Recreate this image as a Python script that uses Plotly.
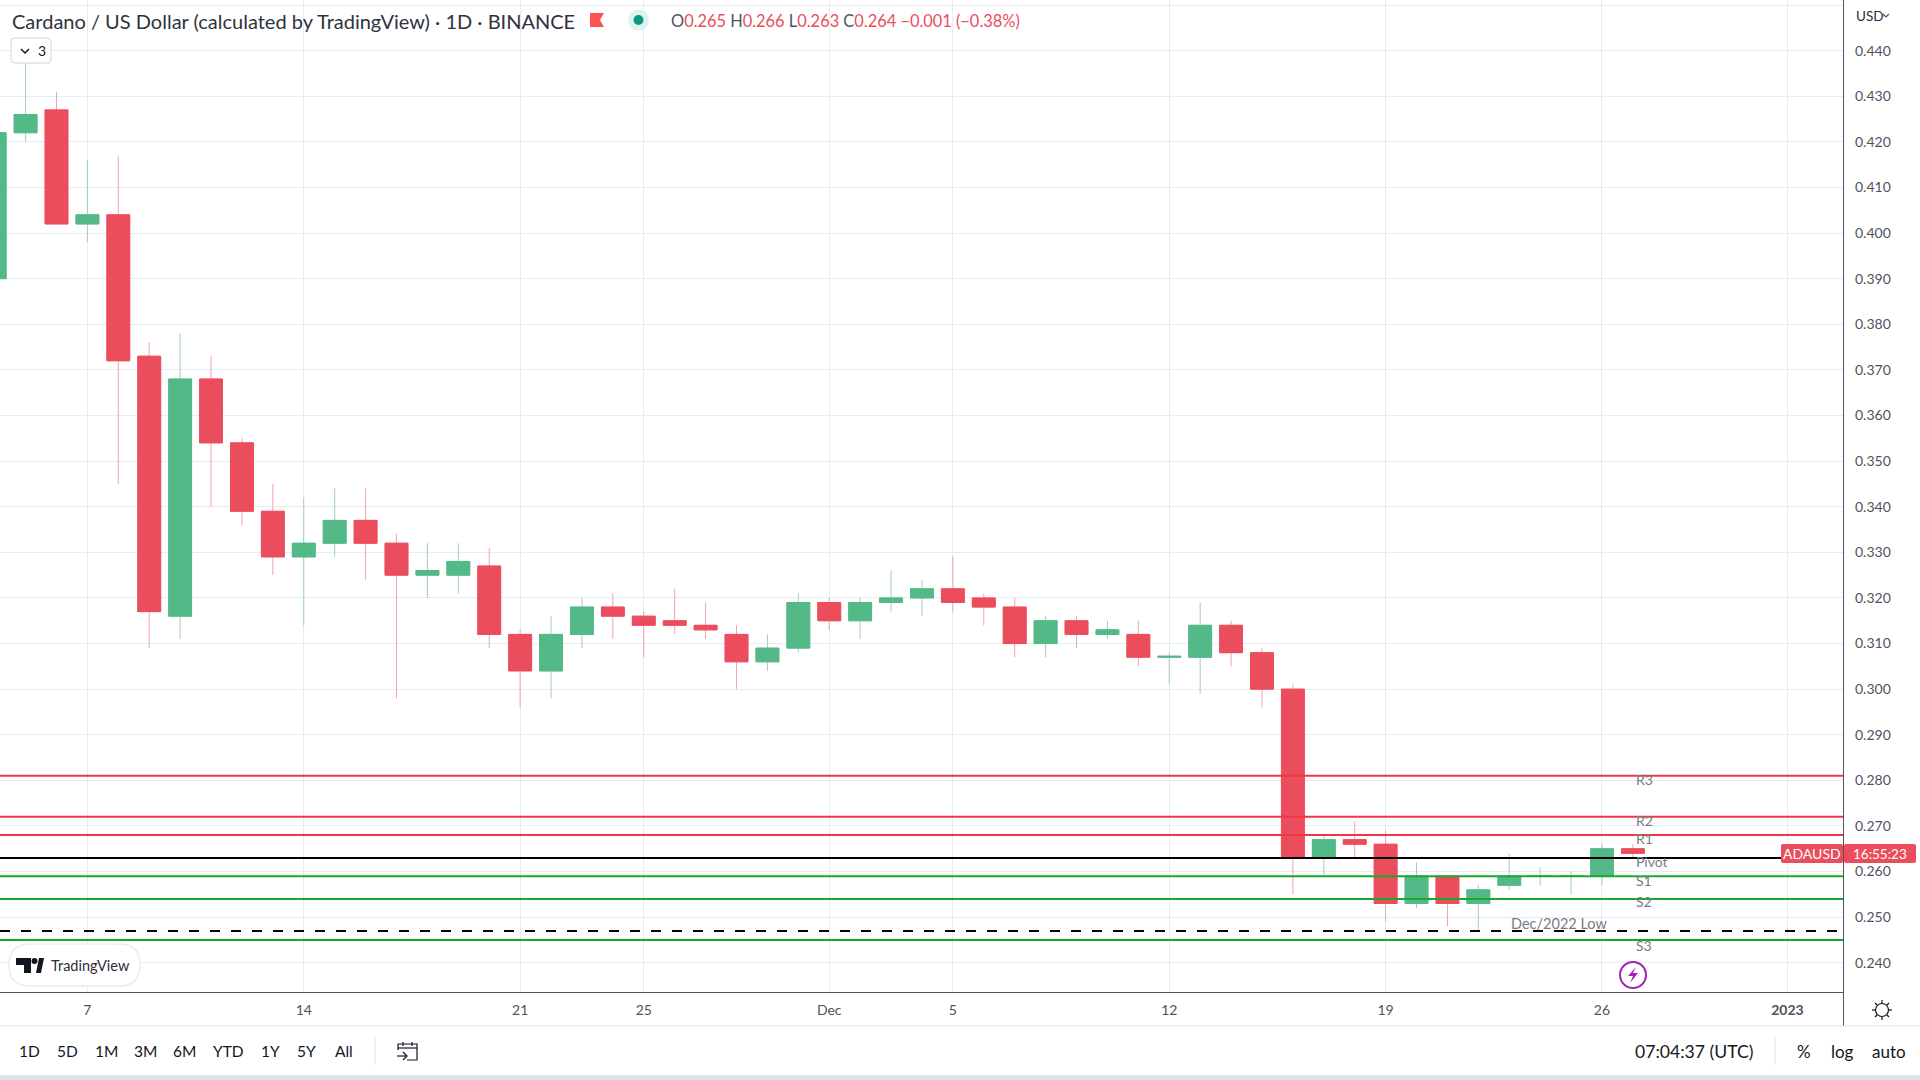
import pandas as pd
import plotly.graph_objects as go

# Daily ADA/USD candles, first candle 4 Nov 2022
opens = [
    0.390, 0.422, 0.427, 0.402, 0.404, 0.373, 0.316, 0.368, 0.354, 0.339,
    0.329, 0.332, 0.337, 0.332, 0.325, 0.325, 0.327, 0.312, 0.304, 0.312,
    0.318, 0.316, 0.315, 0.314, 0.312, 0.306, 0.309, 0.319, 0.315, 0.319,
    0.320, 0.322, 0.320, 0.318, 0.310, 0.315, 0.312, 0.312, 0.307, 0.307,
    0.314, 0.308, 0.300, 0.263, 0.267, 0.266, 0.253, 0.259, 0.253, 0.257,
    0.259, 0.259, 0.259, 0.265,
]
highs = [
    0.425, 0.438, 0.431, 0.416, 0.417, 0.376, 0.378, 0.373, 0.355, 0.345,
    0.342, 0.344, 0.344, 0.334, 0.332, 0.332, 0.331, 0.313, 0.316, 0.320,
    0.321, 0.317, 0.322, 0.319, 0.314, 0.312, 0.321, 0.320, 0.320, 0.326,
    0.324, 0.329, 0.321, 0.320, 0.316, 0.316, 0.315, 0.315, 0.308, 0.319,
    0.315, 0.309, 0.301, 0.268, 0.271, 0.269, 0.262, 0.259, 0.257, 0.264,
    0.261, 0.260, 0.266, 0.266,
]
lows = [
    0.385, 0.420, 0.402, 0.398, 0.345, 0.309, 0.311, 0.340, 0.336, 0.325,
    0.314, 0.329, 0.324, 0.298, 0.320, 0.321, 0.309, 0.296, 0.298, 0.309,
    0.311, 0.307, 0.312, 0.311, 0.300, 0.304, 0.308, 0.313, 0.311, 0.317,
    0.316, 0.317, 0.314, 0.307, 0.307, 0.309, 0.311, 0.305, 0.301, 0.299,
    0.305, 0.296, 0.255, 0.259, 0.263, 0.249, 0.252, 0.248, 0.247, 0.256,
    0.257, 0.255, 0.257, 0.263,
]
closes = [
    0.422, 0.426, 0.402, 0.404, 0.372, 0.317, 0.368, 0.354, 0.339, 0.329,
    0.332, 0.337, 0.332, 0.325, 0.326, 0.328, 0.312, 0.304, 0.312, 0.318,
    0.316, 0.314, 0.314, 0.313, 0.306, 0.309, 0.319, 0.315, 0.319, 0.320,
    0.322, 0.319, 0.318, 0.310, 0.315, 0.312, 0.313, 0.307, 0.3072, 0.314,
    0.308, 0.300, 0.263, 0.267, 0.266, 0.253, 0.259, 0.253, 0.256, 0.259,
    0.259, 0.259, 0.265, 0.264,
]
dates = pd.date_range("2022-11-04", periods=len(opens))

# Pivot levels and the December low
red_levels = [("R3", 0.281), ("R2", 0.272), ("R1", 0.268)]
pivot_level = ("Pivot", 0.263)
green_levels = [("S1", 0.259), ("S2", 0.254), ("S3", 0.245)]
low_level = 0.247
low_label = "Dec/2022 Low"
level_label_shifts = [-4, -4, -3, -4, -4, -3, -5]

tick_dates = ["2022-11-07", "2022-11-14", "2022-11-21", "2022-11-25", "2022-12-01",
              "2022-12-05", "2022-12-12", "2022-12-19", "2022-12-26", "2023-01-01"]
tick_labels = ["7", "14", "21", "25", "Dec", "5", "12", "19", "26", "<b>2023</b>"]

range_buttons = [("1D", 30), ("5D", 67), ("1M", 106), ("3M", 145), ("6M", 184),
                 ("YTD", 228), ("1Y", 270), ("5Y", 306), ("All", 344)]

FONT = "Lato"
UP, DOWN = "#53b987", "#eb4d5c"
UP_WICK, DOWN_WICK = "#a3cbca", "#f5a0ae"
GRID = "#e4edf3"
RED_LINE, GREEN_LINE = "#f23645", "#1aa82c"
TEXT = "#131722"
MUTED = "#787b86"
AXIS_TEXT = "#50535e"
BORDER = "#e0e3eb"

PLOT_W, PLOT_H = 1844, 992


def px(x):
    return x / PLOT_W


def py(y):
    return 1 - y / PLOT_H


def paper_path(points, close=False):
    """SVG path from (x, y) page pixels, in paper coordinates."""
    cmds = [f"{'M' if i == 0 else 'L'} {px(x):.5f} {py(y):.5f}" for i, (x, y) in enumerate(points)]
    return " ".join(cmds) + (" Z" if close else "")


def round_rect(x0, y0, x1, y1, r):
    return (
        f"M {px(x0 + r):.5f} {py(y0):.5f} L {px(x1 - r):.5f} {py(y0):.5f} "
        f"Q {px(x1):.5f} {py(y0):.5f} {px(x1):.5f} {py(y0 + r):.5f} "
        f"L {px(x1):.5f} {py(y1 - r):.5f} Q {px(x1):.5f} {py(y1):.5f} {px(x1 - r):.5f} {py(y1):.5f} "
        f"L {px(x0 + r):.5f} {py(y1):.5f} Q {px(x0):.5f} {py(y1):.5f} {px(x0):.5f} {py(y1 - r):.5f} "
        f"L {px(x0):.5f} {py(y0 + r):.5f} Q {px(x0):.5f} {py(y0):.5f} {px(x0 + r):.5f} {py(y0):.5f} Z"
    )


def add_path(fig, path, fill=None, line=None, width=1):
    fig.add_shape(type="path", xref="paper", yref="paper", path=path,
                  fillcolor=fill or "rgba(0,0,0,0)",
                  line=dict(color=line or "rgba(0,0,0,0)", width=width if line else 0))


def add_rect(fig, x0, y0, x1, y1, fill):
    fig.add_shape(type="rect", xref="paper", yref="paper", x0=px(x0), x1=px(x1),
                  y0=py(y1), y1=py(y0), fillcolor=fill, line=dict(width=0))


def add_circle(fig, cx, cy, r, fill=None, line=None, width=1):
    fig.add_shape(type="circle", xref="paper", yref="paper",
                  x0=px(cx - r), x1=px(cx + r), y0=py(cy + r), y1=py(cy - r),
                  fillcolor=fill or "rgba(0,0,0,0)",
                  line=dict(color=line or "rgba(0,0,0,0)", width=width if line else 0))


def add_text(fig, x, y, text, size=14, color=TEXT, anchor="left"):
    fig.add_annotation(xref="paper", yref="paper", x=px(x), y=py(y), text=text, showarrow=False,
                       xanchor=anchor, yanchor="middle", borderpad=0,
                       font=dict(family=FONT, size=size, color=color))


fig = go.Figure()

# Wicks first, then bodies over them: TradingView draws wicks paler than the bodies
fig.add_candlestick(
    x=dates, open=opens, high=highs, low=lows, close=closes, hoverinfo="skip",
    increasing=dict(line=dict(color=UP_WICK, width=1), fillcolor=UP_WICK),
    decreasing=dict(line=dict(color=DOWN_WICK, width=1), fillcolor=DOWN_WICK),
)
body_top = [max(o, c) for o, c in zip(opens, closes)]
body_low = [min(o, c) for o, c in zip(opens, closes)]
fig.add_candlestick(
    x=dates, open=opens, high=body_top, low=body_low, close=closes, hoverinfo="skip",
    increasing=dict(line=dict(color=UP, width=1), fillcolor=UP),
    decreasing=dict(line=dict(color=DOWN, width=1), fillcolor=DOWN),
)

# Level lines sit on top of the candles
for name, level in red_levels:
    fig.add_hline(y=level, line=dict(color=RED_LINE, width=2))
fig.add_hline(y=pivot_level[1], line=dict(color="#000000", width=2))
for name, level in green_levels:
    fig.add_hline(y=level, line=dict(color=GREEN_LINE, width=2))
fig.add_hline(y=low_level, line=dict(color="#000000", width=2, dash="10px,11px"))

label_x = dates[-1]
for (name, level), shift in zip(red_levels + [pivot_level] + green_levels, level_label_shifts):
    fig.add_annotation(x=label_x, y=level, text=name, showarrow=False, xanchor="left", yanchor="middle",
                       xshift=1, yshift=shift, font=dict(family=FONT, size=14, color=MUTED))
fig.add_annotation(x=dates[-3], y=low_level, text=low_label, showarrow=False, xanchor="center",
                   yanchor="bottom", xshift=-12, yshift=-3, font=dict(family=FONT, size=14.5, color=MUTED))

# Header
add_text(fig, 11, 21, "Cardano / US Dollar (calculated by TradingView) · 1D · BINANCE", size=20, color="#2f333e")
add_path(fig, paper_path([(590, 13), (604, 13), (600, 20), (604, 27), (590, 27)], close=True), fill="#ff5252")
add_circle(fig, 638.5, 20, 10.5, fill="#e0f2ee")
add_circle(fig, 638.5, 20, 5, fill="#089981")
ohlc = [("O", "0.265"), ("H", "0.266"), ("L", "0.263"), ("C", "0.264")]
ohlc_text = " ".join(f'<span style="color:{AXIS_TEXT}">{k}</span>{v}' for k, v in ohlc)
add_text(fig, 670, 21, f"{ohlc_text} −0.001 (−0.38%)", size=16.4, color=DOWN)

# Collapsed indicators button
add_path(fig, round_rect(11, 38, 51, 63, 4), fill="#ffffff", line="#d1d4dc")
add_path(fig, paper_path([(21, 49), (25, 53), (29, 49)]), line=TEXT, width=1.5)
add_text(fig, 37, 51, "3", size=14)

# TradingView badge
add_path(fig, round_rect(9, 944, 140, 986, 21), fill="#ffffff", line="#ebebf0", width=1.5)
add_path(fig, paper_path([(16, 958), (31, 958), (31, 973), (24, 973), (24, 965), (16, 965)], close=True), fill=TEXT)
add_circle(fig, 34.5, 961, 3, fill=TEXT)
add_path(fig, paper_path([(36, 973), (39, 958), (44, 958), (41, 973)], close=True), fill=TEXT)
add_text(fig, 50, 965, "TradingView", size=14.5, color="#2a2e39")

# Lightning marker
add_circle(fig, 1633, 975, 13, fill="#ffffff", line="#9c27b0", width=2)
add_path(fig, paper_path([(1636, 967), (1628, 976), (1633, 976), (1630, 983), (1638, 973), (1633, 973)], close=True),
         fill="#9c27b0")

# Last price tags
add_path(fig, round_rect(1781, 844, 1843, 863, 2), fill=DOWN)
add_path(fig, round_rect(1844, 844, 1916, 863, 2), fill=DOWN)
add_text(fig, 1812, 853.5, "ADAUSD", size=14, color="#ffffff", anchor="center")
add_text(fig, 1880, 853.5, "16:55:23", size=13.5, color="#ffffff", anchor="center")

# USD selector on the price scale
add_text(fig, 1855, 16, "USD", size=13.5, color="#2a2e39")
add_path(fig, paper_path([(1883, 14), (1886, 17), (1889, 14)]), line="#50535e", width=1.2)

# Chrome below the chart
add_path(fig, paper_path([(1843.5, 0), (1843.5, 1026)]), line="#50535e", width=1)
add_path(fig, paper_path([(0, 1026), (1920, 1026)]), line=BORDER, width=1)
add_rect(fig, 0, 1075, 1920, 1080, BORDER)

for label, x in range_buttons:
    add_text(fig, x, 1051, label, size=15.5, anchor="center")
add_path(fig, paper_path([(375, 1037), (375, 1065)]), line=BORDER, width=1)

# Go-to-date icon
add_path(fig, paper_path([(398, 1050), (398, 1044), (417, 1044), (417, 1060), (407, 1060)]), line=TEXT, width=1.2)
add_path(fig, paper_path([(398, 1048), (417, 1048)]), line=TEXT, width=1.2)
add_path(fig, paper_path([(403, 1042), (403, 1046)]), line=TEXT, width=1.2)
add_path(fig, paper_path([(412, 1042), (412, 1046)]), line=TEXT, width=1.2)
add_path(fig, paper_path([(397, 1056), (407, 1056)]), line=TEXT, width=1.2)
add_path(fig, paper_path([(403, 1052), (407, 1056), (403, 1060)]), line=TEXT, width=1.2)

add_text(fig, 1694, 1051, "07:04:37 (UTC)", size=17.6, anchor="center")
add_path(fig, paper_path([(1775, 1037), (1775, 1065)]), line=BORDER, width=1)
add_text(fig, 1804, 1051, "%", size=17, anchor="center")
add_text(fig, 1842, 1051, "log", size=17, anchor="center")
add_text(fig, 1889, 1051, "auto", size=17, anchor="center")

# Settings icon on the scale corner
add_circle(fig, 1882, 1010, 6.5, line=TEXT, width=1.2)
for (x0, y0, x1, y1) in [(1882, 1000, 1882, 1003), (1882, 1017, 1882, 1020),
                         (1872, 1010, 1875, 1010), (1889, 1010, 1892, 1010),
                         (1875, 1003, 1877, 1005), (1887, 1015, 1889, 1017),
                         (1875, 1017, 1877, 1015), (1887, 1005, 1889, 1003)]:
    add_path(fig, paper_path([(x0, y0), (x1, y1)]), line=TEXT, width=1.2)

nov7 = pd.Timestamp("2022-11-07")
day_px = 30.91
nov7_px = 87.4
x_range = [nov7 + pd.Timedelta(days=-nov7_px / day_px), nov7 + pd.Timedelta(days=(PLOT_W - nov7_px) / day_px)]

fig.update_layout(
    width=1920, height=1080, autosize=False,
    margin=dict(l=0, r=1920 - PLOT_W, t=0, b=1080 - PLOT_H, pad=0),
    paper_bgcolor="#ffffff", plot_bgcolor="#ffffff",
    showlegend=False, boxgap=0.26, boxgroupgap=0,
    font=dict(family=FONT),
    xaxis=dict(
        type="date", range=x_range, rangeslider=dict(visible=False),
        tickmode="array", tickvals=tick_dates, ticktext=tick_labels,
        tickfont=dict(family=FONT, size=14, color=AXIS_TEXT), ticks="", ticklabelstandoff=5,
        showgrid=True, gridcolor=GRID, gridwidth=1, zeroline=False,
        showline=True, linecolor="#50535e", linewidth=1,
    ),
    yaxis=dict(
        side="right", range=[0.2336, 0.4511], dtick=0.01, tick0=0.24, tickformat=".3f",
        tickfont=dict(family=FONT, size=14, color=AXIS_TEXT), ticks="", ticklabelstandoff=10,
        showgrid=True, gridcolor=GRID, gridwidth=1, zeroline=False, showline=False,
    ),
)

fig.write_html("out.html", config=dict(displayModeBar=False), post_script="document.body.style.margin='0';")
